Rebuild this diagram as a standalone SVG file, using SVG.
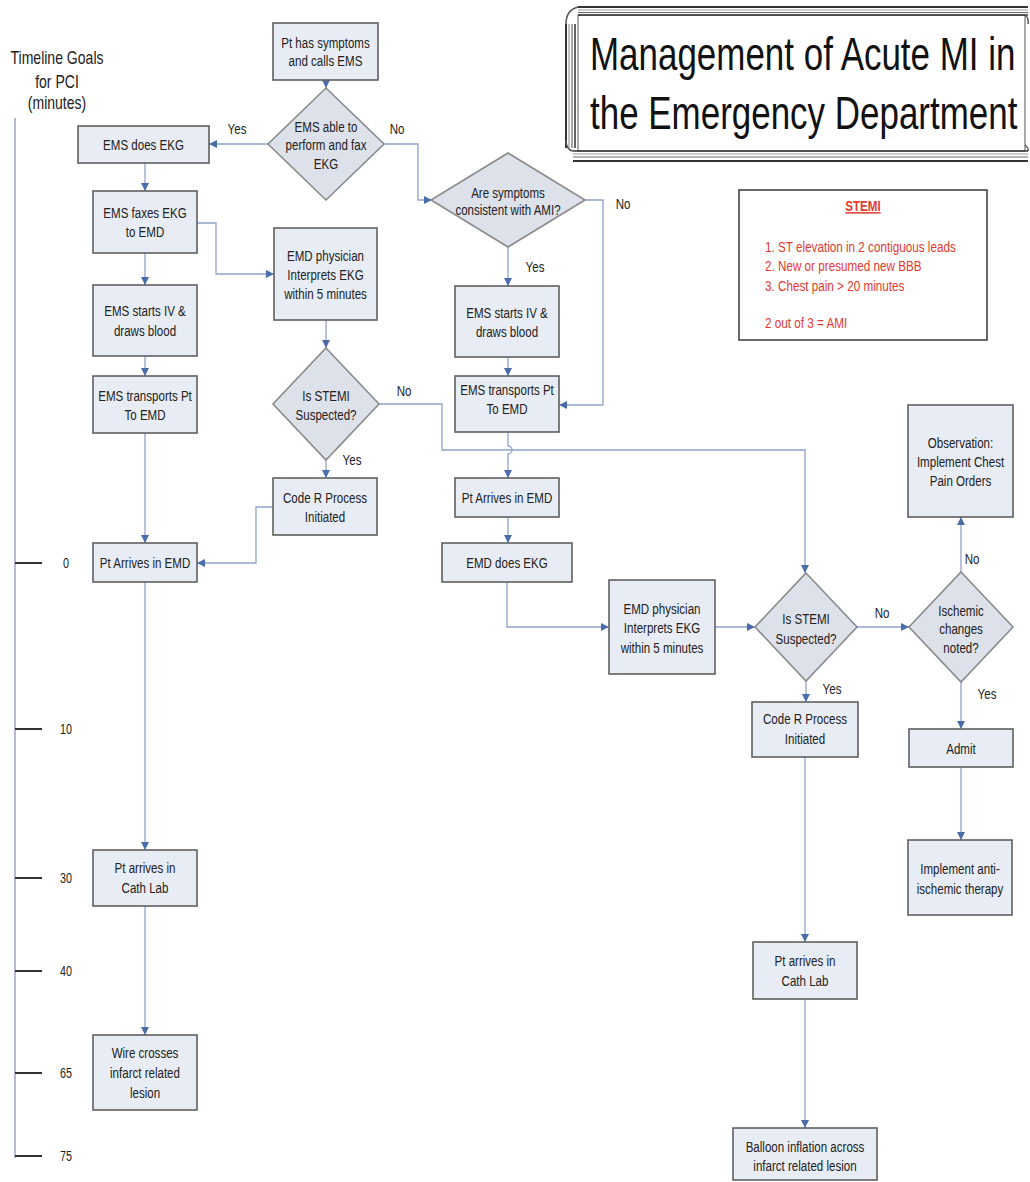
<svg xmlns="http://www.w3.org/2000/svg" width="1030" height="1182" viewBox="0 0 1030 1182">
<style>
.box{fill:#e8ecf4;stroke:#606060;stroke-width:1.6}
.dia{fill:#dde1ea;stroke:#8a8a8a;stroke-width:1.6}
.t{font-family:"Liberation Sans",Arial,sans-serif;font-size:15px;fill:#222;text-anchor:middle}
.ts{font-family:"Liberation Sans",Arial,sans-serif;font-size:15px;fill:#222;text-anchor:start}
.lbl{font-family:"Liberation Sans",Arial,sans-serif;font-size:15px;fill:#222;text-anchor:middle}
.red{font-family:"Liberation Sans",Arial,sans-serif;font-size:15px;fill:#e5392f;text-anchor:start}
.con{fill:none;stroke:#8fa2cc;stroke-width:1.3}
.tl{stroke:#333;stroke-width:2}
</style>
<defs>
<marker id="arr" viewBox="0 0 10 10" refX="10" refY="5" markerWidth="8" markerHeight="8" markerUnits="userSpaceOnUse" orient="auto">
<path d="M0,0 L10,5 L0,10 z" fill="#4a6ca8"/>
</marker>
</defs>
<rect width="1030" height="1182" fill="#ffffff"/>

<g id="title">
<rect x="578" y="15" width="447" height="136" fill="#ffffff" stroke="#555" stroke-width="1"/>
<line x1="578" y1="7" x2="1028" y2="7" stroke="#333" stroke-width="2"/>
<line x1="578" y1="10" x2="1028" y2="10" stroke="#999" stroke-width="1.2"/>
<line x1="578" y1="12.5" x2="1028" y2="12.5" stroke="#666" stroke-width="1.2"/>
<line x1="578" y1="15" x2="1028" y2="15" stroke="#333" stroke-width="1.5"/>
<line x1="566" y1="24" x2="566" y2="148" stroke="#333" stroke-width="2"/>
<line x1="569" y1="24" x2="569" y2="148" stroke="#999" stroke-width="1.2"/>
<line x1="572" y1="24" x2="572" y2="148" stroke="#666" stroke-width="1.2"/>
<line x1="575" y1="24" x2="575" y2="148" stroke="#333" stroke-width="1.5"/>
<line x1="573" y1="151" x2="1028" y2="151" stroke="#333" stroke-width="1.5"/>
<line x1="573" y1="154" x2="1028" y2="154" stroke="#999" stroke-width="1.2"/>
<line x1="573" y1="157" x2="1028" y2="157" stroke="#666" stroke-width="1.2"/>
<line x1="573" y1="161" x2="1028" y2="161" stroke="#333" stroke-width="2"/>
<path d="M578,7 Q566,10 566,24 M573,151 Q566,150 566,140 M1025,15 Q1029,18 1028,24 M1025,145 Q1029,148 1028,151" fill="none" stroke="#555" stroke-width="1.5"/>
<text class="ts" style="font-size:46px;fill:#111" transform="translate(590,70) scale(0.76,1)">Management of Acute MI in</text>
<text class="ts" style="font-size:46px;fill:#111" transform="translate(590,129) scale(0.76,1)">the Emergency Department</text>
</g>

<g id="timeline">
<line x1="15" y1="118" x2="15" y2="1158" stroke="#b4bcd2" stroke-width="2"/>
<line class="tl" x1="15" y1="563" x2="42" y2="563"/>
<line class="tl" x1="15" y1="729" x2="42" y2="729"/>
<line class="tl" x1="15" y1="878" x2="42" y2="878"/>
<line class="tl" x1="15" y1="971" x2="42" y2="971"/>
<line class="tl" x1="15" y1="1073" x2="42" y2="1073"/>
<line class="tl" x1="15" y1="1156" x2="42" y2="1156"/>
<text class="t" style="font-size:18px" transform="translate(57,64) scale(0.78,1)">Timeline Goals</text>
<text class="t" style="font-size:18px" transform="translate(57,88) scale(0.78,1)">for PCI</text>
<text class="t" style="font-size:18px" transform="translate(57,109) scale(0.78,1)">(minutes)</text>
<text class="t" style="font-size:14px" transform="translate(66,568) scale(0.77,1)">0</text>
<text class="t" style="font-size:14px" transform="translate(66,734) scale(0.77,1)">10</text>
<text class="t" style="font-size:14px" transform="translate(66,883) scale(0.77,1)">30</text>
<text class="t" style="font-size:14px" transform="translate(66,976) scale(0.77,1)">40</text>
<text class="t" style="font-size:14px" transform="translate(66,1078) scale(0.77,1)">65</text>
<text class="t" style="font-size:14px" transform="translate(66,1161) scale(0.77,1)">75</text>
</g>

<g id="connectors">
<path class="con" d="M326,80 V88" marker-end="url(#arr)"/>
<path class="con" d="M268,144 H209" marker-end="url(#arr)"/>
<path class="con" d="M384,144 H418 V200 H432" marker-end="url(#arr)"/>
<path class="con" d="M145,163 V191" marker-end="url(#arr)"/>
<path class="con" d="M145,253 V285" marker-end="url(#arr)"/>
<path class="con" d="M197,223 H216 V274 H274" marker-end="url(#arr)"/>
<path class="con" d="M145,356 V376" marker-end="url(#arr)"/>
<path class="con" d="M145,433 V543" marker-end="url(#arr)"/>
<path class="con" d="M326,320 V348" marker-end="url(#arr)"/>
<path class="con" d="M326,460 V478" marker-end="url(#arr)"/>
<path class="con" d="M273,507 H256 V563 H197" marker-end="url(#arr)"/>
<path class="con" d="M379,404 H442 V450 H805 V573" marker-end="url(#arr)"/>
<path class="con" d="M508,247 V286" marker-end="url(#arr)"/>
<path class="con" d="M585,200 H603 V405 H559" marker-end="url(#arr)"/>
<path class="con" d="M508,357 V376" marker-end="url(#arr)"/>
<path class="con" d="M508,432 V446 A4,4 0 0 1 508,454 V478" marker-end="url(#arr)"/>
<path class="con" d="M508,517 V543" marker-end="url(#arr)"/>
<path class="con" d="M507,582 V627 H609" marker-end="url(#arr)"/>
<path class="con" d="M715,627 H755" marker-end="url(#arr)"/>
<path class="con" d="M857,627 H909" marker-end="url(#arr)"/>
<path class="con" d="M961,572 V517" marker-end="url(#arr)"/>
<path class="con" d="M806,681 V702" marker-end="url(#arr)"/>
<path class="con" d="M961,682 V729" marker-end="url(#arr)"/>
<path class="con" d="M961,767 V840" marker-end="url(#arr)"/>
<path class="con" d="M805,757 V942" marker-end="url(#arr)"/>
<path class="con" d="M805,999 V1128" marker-end="url(#arr)"/>
<path class="con" d="M145,582 V850" marker-end="url(#arr)"/>
<path class="con" d="M145,906 V1035" marker-end="url(#arr)"/>
<text class="lbl" transform="translate(237,134) scale(0.77,1)">Yes</text>
<text class="lbl" transform="translate(397,134) scale(0.77,1)">No</text>
<text class="lbl" transform="translate(623,209) scale(0.77,1)">No</text>
<text class="lbl" transform="translate(535,272) scale(0.77,1)">Yes</text>
<text class="lbl" transform="translate(404,396) scale(0.77,1)">No</text>
<text class="lbl" transform="translate(352,465) scale(0.77,1)">Yes</text>
<text class="lbl" transform="translate(882,618) scale(0.77,1)">No</text>
<text class="lbl" transform="translate(972,564) scale(0.77,1)">No</text>
<text class="lbl" transform="translate(832,694) scale(0.77,1)">Yes</text>
<text class="lbl" transform="translate(987,699) scale(0.77,1)">Yes</text>
</g>

<g id="n-symptoms">
<rect class="box" x="273" y="23" width="105" height="57"/>
<text class="t" transform="translate(325.5,47.5) scale(0.77,1)"><tspan x="0">Pt has symptoms</tspan><tspan x="0" dy="19">and calls EMS</tspan></text>
</g>
<g id="d-ems-able">
<polygon class="dia" points="326,88 384,144 326,200 268,144"/>
<text class="t" transform="translate(326,132) scale(0.77,1)"><tspan x="0">EMS able to</tspan><tspan x="0" dy="18.5">perform and fax</tspan><tspan x="0" dy="18.5">EKG</tspan></text>
</g>
<g id="n-ems-ekg">
<rect class="box" x="78" y="126" width="131" height="37"/>
<text class="t" transform="translate(143.5,150) scale(0.77,1)">EMS does EKG</text>
</g>
<g id="n-faxes">
<rect class="box" x="93" y="191" width="104" height="62"/>
<text class="t" transform="translate(145,218) scale(0.77,1)"><tspan x="0">EMS faxes EKG</tspan><tspan x="0" dy="19">to EMD</tspan></text>
</g>
<g id="n-emd-phys1">
<rect class="box" x="274" y="228" width="103" height="92"/>
<text class="t" transform="translate(325.5,261) scale(0.77,1)"><tspan x="0">EMD physician</tspan><tspan x="0" dy="19">Interprets EKG</tspan><tspan x="0" dy="19">within 5 minutes</tspan></text>
</g>
<g id="n-iv1">
<rect class="box" x="93" y="285" width="104" height="71"/>
<text class="t" transform="translate(145,316) scale(0.77,1)"><tspan x="0">EMS starts IV &amp;</tspan><tspan x="0" dy="20">draws blood</tspan></text>
</g>
<g id="n-transport1">
<rect class="box" x="93" y="376" width="104" height="57"/>
<text class="t" transform="translate(145,401) scale(0.77,1)"><tspan x="0">EMS transports Pt</tspan><tspan x="0" dy="19">To EMD</tspan></text>
</g>
<g id="d-stemi1">
<polygon class="dia" points="326,348 379,404 326,460 273,404"/>
<text class="t" transform="translate(326,401) scale(0.77,1)"><tspan x="0">Is STEMI</tspan><tspan x="0" dy="19">Suspected?</tspan></text>
</g>
<g id="n-coder1">
<rect class="box" x="273" y="478" width="104" height="57"/>
<text class="t" transform="translate(325,503) scale(0.77,1)"><tspan x="0">Code R Process</tspan><tspan x="0" dy="19">Initiated</tspan></text>
</g>
<g id="n-arrive1">
<rect class="box" x="93" y="543" width="104" height="39"/>
<text class="t" transform="translate(145,568) scale(0.77,1)">Pt Arrives in EMD</text>
</g>
<g id="n-cath1">
<rect class="box" x="93" y="850" width="104" height="56"/>
<text class="t" transform="translate(145,873) scale(0.77,1)"><tspan x="0">Pt arrives in</tspan><tspan x="0" dy="20">Cath Lab</tspan></text>
</g>
<g id="n-wire">
<rect class="box" x="93" y="1035" width="104" height="75"/>
<text class="t" transform="translate(145,1058) scale(0.77,1)"><tspan x="0">Wire crosses</tspan><tspan x="0" dy="20">infarct related</tspan><tspan x="0" dy="20">lesion</tspan></text>
</g>
<g id="d-symptoms">
<polygon class="dia" points="508,153 585,200 508,247 431,200"/>
<text class="t" transform="translate(508,197.5) scale(0.77,1)"><tspan x="0">Are symptoms</tspan><tspan x="0" dy="18">consistent with AMI?</tspan></text>
</g>
<g id="n-iv2">
<rect class="box" x="455" y="286" width="104" height="71"/>
<text class="t" transform="translate(507,318) scale(0.77,1)"><tspan x="0">EMS starts IV &amp;</tspan><tspan x="0" dy="19">draws blood</tspan></text>
</g>
<g id="n-transport2">
<rect class="box" x="455" y="376" width="104" height="56"/>
<text class="t" transform="translate(507,395) scale(0.77,1)"><tspan x="0">EMS transports Pt</tspan><tspan x="0" dy="19">To EMD</tspan></text>
</g>
<g id="n-arrive2">
<rect class="box" x="455" y="478" width="104" height="39"/>
<text class="t" transform="translate(507,503) scale(0.77,1)">Pt Arrives in EMD</text>
</g>
<g id="n-emd-ekg">
<rect class="box" x="442" y="543" width="130" height="39"/>
<text class="t" transform="translate(507,568) scale(0.77,1)">EMD does EKG</text>
</g>
<g id="n-emd-phys2">
<rect class="box" x="609" y="580" width="106" height="94"/>
<text class="t" transform="translate(662,614) scale(0.77,1)"><tspan x="0">EMD physician</tspan><tspan x="0" dy="19.5">Interprets EKG</tspan><tspan x="0" dy="19.5">within 5 minutes</tspan></text>
</g>
<g id="d-stemi2">
<polygon class="dia" points="806,573 857,627 806,681 755,627"/>
<text class="t" transform="translate(806,624) scale(0.77,1)"><tspan x="0">Is STEMI</tspan><tspan x="0" dy="20">Suspected?</tspan></text>
</g>
<g id="d-ischemic">
<polygon class="dia" points="961,572 1013,627 961,682 909,627"/>
<text class="t" transform="translate(961,616) scale(0.77,1)"><tspan x="0">Ischemic</tspan><tspan x="0" dy="18.5">changes</tspan><tspan x="0" dy="18.5">noted?</tspan></text>
</g>
<g id="n-observation">
<rect class="box" x="908" y="405" width="105" height="112"/>
<text class="t" transform="translate(960.5,448) scale(0.77,1)"><tspan x="0">Observation:</tspan><tspan x="0" dy="19">Implement Chest</tspan><tspan x="0" dy="19">Pain Orders</tspan></text>
</g>
<g id="n-coder2">
<rect class="box" x="752" y="702" width="106" height="55"/>
<text class="t" transform="translate(805,724) scale(0.77,1)"><tspan x="0">Code R Process</tspan><tspan x="0" dy="20">Initiated</tspan></text>
</g>
<g id="n-admit">
<rect class="box" x="909" y="729" width="104" height="38"/>
<text class="t" transform="translate(961,754) scale(0.77,1)">Admit</text>
</g>
<g id="n-anti">
<rect class="box" x="908" y="840" width="104" height="75"/>
<text class="t" transform="translate(960,874) scale(0.77,1)"><tspan x="0">Implement anti-</tspan><tspan x="0" dy="20">ischemic therapy</tspan></text>
</g>
<g id="n-cath2">
<rect class="box" x="753" y="942" width="104" height="57"/>
<text class="t" transform="translate(805,966) scale(0.77,1)"><tspan x="0">Pt arrives in</tspan><tspan x="0" dy="20">Cath Lab</tspan></text>
</g>
<g id="n-balloon">
<rect class="box" x="733" y="1128" width="144" height="52"/>
<text class="t" transform="translate(805,1152) scale(0.77,1)"><tspan x="0">Balloon inflation across</tspan><tspan x="0" dy="19">infarct related lesion</tspan></text>
</g>

<g id="legend">
<rect x="739" y="190" width="248" height="150" fill="#ffffff" stroke="#444" stroke-width="1.6"/>
<text class="red" style="text-anchor:middle;text-decoration:underline;font-weight:bold" transform="translate(863,211) scale(0.77,1)">STEMI</text>
<text class="red" transform="translate(765,252) scale(0.78,1)">1. ST elevation in 2 contiguous leads</text>
<text class="red" transform="translate(765,271) scale(0.78,1)">2. New or presumed new BBB</text>
<text class="red" transform="translate(765,291) scale(0.78,1)">3. Chest pain &gt; 20 minutes</text>
<text class="red" transform="translate(765,328) scale(0.78,1)">2 out of 3 = AMI</text>
</g>
</svg>
